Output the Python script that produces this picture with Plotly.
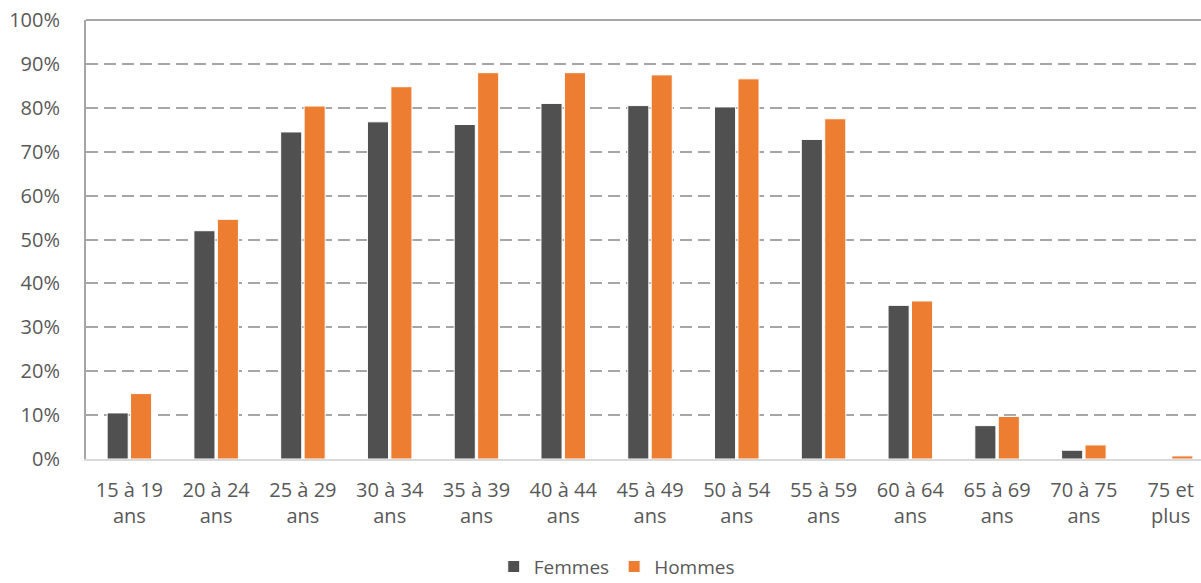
import plotly.graph_objects as go

categories = ["15 à 19<br>ans", "20 à 24<br>ans", "25 à 29<br>ans", "30 à 34<br>ans",
              "35 à 39<br>ans", "40 à 44<br>ans", "45 à 49<br>ans", "50 à 54<br>ans",
              "55 à 59<br>ans", "60 à 64<br>ans", "65 à 69<br>ans", "70 à 75<br>ans",
              "75 et<br>plus"]
femmes = [0.105, 0.52, 0.745, 0.768, 0.762, 0.81, 0.805, 0.802, 0.728, 0.35, 0.076, 0.02, 0.0]
hommes = [0.149, 0.546, 0.804, 0.848, 0.88, 0.88, 0.875, 0.866, 0.775, 0.36, 0.097, 0.032, 0.007]
y_ticks = [0, 0.1, 0.2, 0.3, 0.4, 0.5, 0.6, 0.7, 0.8, 0.9, 1.0]

FONT = "Open Sans"
GRAY = "#595959"

fig = go.Figure()
fig.add_trace(go.Bar(x=categories, y=femmes, name="Femmes",
                     marker=dict(color="#505050", line=dict(color="white", width=1))))
fig.add_trace(go.Bar(x=categories, y=hommes, name="Hommes",
                     marker=dict(color="#ED7D31", line=dict(color="white", width=1))))

fig.update_layout(
    width=1201, height=583,
    margin=dict(l=86, r=0, t=20, b=124, autoexpand=False),
    paper_bgcolor="white", plot_bgcolor="white",
    barmode="group", bargap=0.46, bargroupgap=0.1,
    font=dict(family=FONT, size=20, color=GRAY),
    legend=dict(orientation="h", x=0.476, xanchor="center", y=-0.202, yanchor="top",
                font=dict(family=FONT, size=19, color=GRAY), itemwidth=30),
    xaxis=dict(range=[-0.5, 12.35], showline=True, linecolor="#D9D9D9", linewidth=2,
               showgrid=False, ticks="", ticklabelstandoff=12, automargin=False,
               tickfont=dict(size=20, color=GRAY)),
    yaxis=dict(range=[0, 1], tickvals=y_ticks, tickformat=".0%", showline=True,
               linecolor="#A6A6A6", linewidth=2, showgrid=True, gridcolor="#A6A6A6",
               gridwidth=2, griddash="12px,6px", zeroline=False, ticks="",
               automargin=False, ticklabelstandoff=20,
               tickfont=dict(size=20, color=GRAY)),
)
fig.add_shape(type="line", xref="paper", yref="paper", x0=0, x1=1, y0=1, y1=1,
              line=dict(color="#A6A6A6", width=2))

fig.write_html("out.html", config={"displayModeBar": False},
               post_script="document.body.style.margin='0';")
